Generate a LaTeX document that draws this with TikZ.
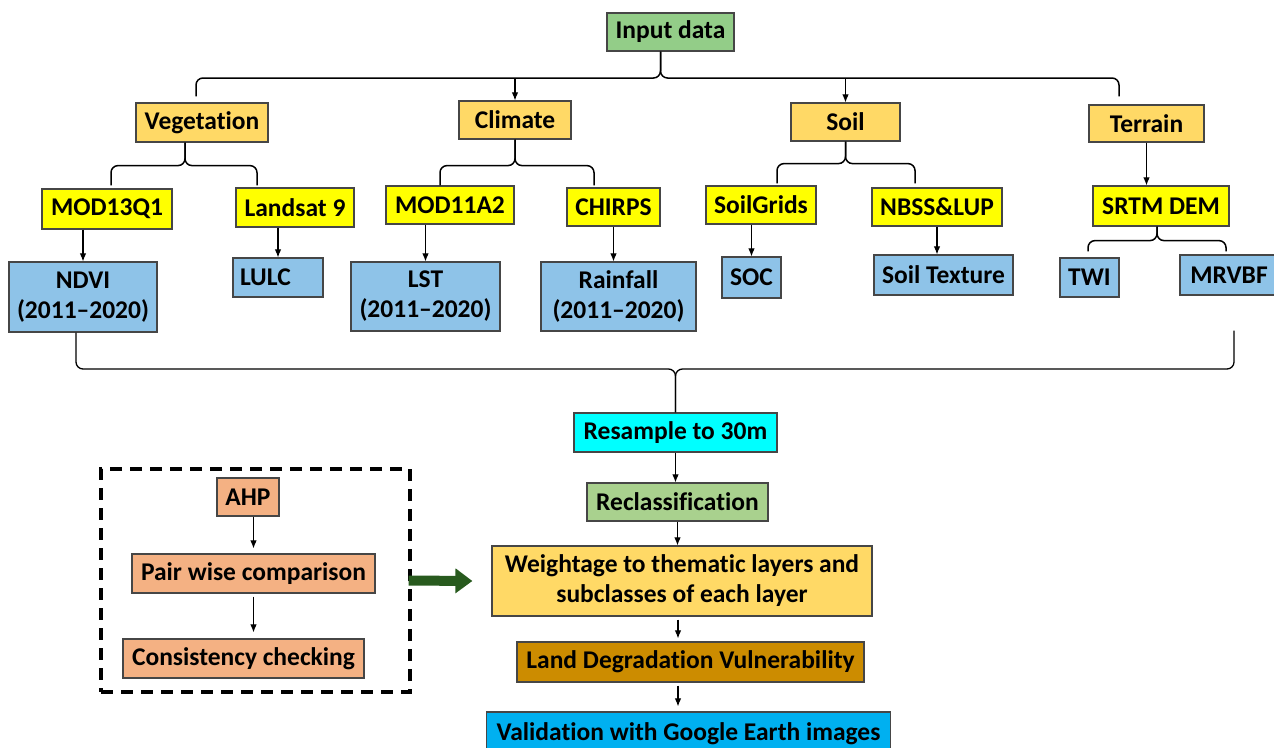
\documentclass[tikz,border=0pt]{standalone}
\usepackage{fontspec}
\setmainfont{Carlito}[Ligatures={TeX,NoCommon}]
\usepackage{tikz}
\usetikzlibrary{arrows,arrows.meta,calc,positioning}
\definecolor{inputgreen}{RGB}{147,205,136}
\definecolor{catfill}{RGB}{255,217,102}
\definecolor{srcfill}{RGB}{255,255,0}
\definecolor{layerfill}{RGB}{142,195,232}
\definecolor{resfill}{RGB}{0,255,255}
\definecolor{reclfill}{RGB}{169,209,142}
\definecolor{ldvfill}{RGB}{204,140,0}
\definecolor{validfill}{RGB}{0,176,240}
\definecolor{ahpfill}{RGB}{244,177,131}
\definecolor{boxline}{RGB}{70,70,70}
\definecolor{darkarrow}{RGB}{40,90,30}
\tikzstyle{box} = [rectangle, draw=boxline, line width=1.2pt, align=center, inner sep=2pt,
  font={\fontsize{25.5}{30}\selectfont\bfseries}]
\tikzstyle{arrow} = [draw, line width=1.1pt, -{Latex[length=8pt,width=6.5pt]}]
\tikzstyle{brace} = [draw, line width=1.5pt, rounded corners=7pt]
\tikzstyle{dashbox} = [rectangle, draw=black, line width=3.2pt, dash pattern=on 12pt off 8pt]
\tikzstyle{bigarrow} = [draw=darkarrow, line width=10pt, -{Triangle[length=17pt,width=24pt]}]

\begin{document}
\begin{tikzpicture}[x=1pt, y=-1pt]
    \useasboundingbox (0,0) rectangle (1274,747);
    % top level
    \node [box, fill=inputgreen, minimum width=127, minimum height=38] (input) at (670.5,32) {Input data};
    \node [box, fill=catfill, minimum width=132, minimum height=39] (veg) at (202,122.5) {Vegetation};
    \node [box, fill=catfill, minimum width=112, minimum height=38] (clim) at (515,120) {Climate};
    \node [box, fill=catfill, minimum width=109, minimum height=38] (soil) at (845.5,122) {Soil};
    \node [box, fill=catfill, minimum width=115, minimum height=37] (terr) at (1146.5,123.5) {Terrain};
    % sources
    \node [box, fill=srcfill, minimum width=130, minimum height=40] (mod13) at (107,209) {MOD13Q1};
    \node [box, fill=srcfill, minimum width=118, minimum height=39] (land) at (295,207.5) {Landsat 9};
    \node [box, fill=srcfill, minimum width=128, minimum height=38] (mod11) at (450,205) {MOD11A2};
    \node [box, fill=srcfill, minimum width=93, minimum height=38] (chirps) at (613.5,207) {CHIRPS};
    \node [box, fill=srcfill, minimum width=110, minimum height=38] (soilg) at (761,205) {SoilGrids};
    \node [box, fill=srcfill, minimum width=130, minimum height=38] (nbss) at (937,207) {NBSS\&LUP};
    \node [box, fill=srcfill, minimum width=136, minimum height=40] (srtm) at (1161,206) {SRTM DEM};
    % thematic layers
    \node [box, fill=layerfill, minimum width=148, minimum height=70] (ndvi) at (83,297) {NDVI\\(2011--2020)};
    \node [box, fill=layerfill, text width=76pt, align=left, inner xsep=7pt, minimum height=39] (lulc) at (278,277.5) {LULC};
    \node [box, fill=layerfill, minimum width=149, minimum height=69] (lst) at (425.5,296.5) {LST\\(2011--2020)};
    \node [box, fill=layerfill, minimum width=155, minimum height=69] (rain) at (618.5,296.5) {Rainfall\\(2011--2020)};
    \node [box, fill=layerfill, minimum width=59, minimum height=41] (soc) at (751.5,277.5) {SOC};
    \node [box, fill=layerfill, minimum width=139, minimum height=40] (tex) at (943.5,275) {Soil Texture};
    \node [box, fill=layerfill, minimum width=59, minimum height=39] (twi) at (1089.5,277.5) {TWI};
    \node [box, fill=layerfill, minimum width=98, minimum height=40] (mrvbf) at (1229,275) {MRVBF};
    % processing chain
    \node [box, fill=resfill, minimum width=203, minimum height=39] (res) at (675.5,432.5) {Resample to 30m};
    \node [box, fill=reclfill, minimum width=181, minimum height=38] (recl) at (677.5,502) {Reclassification};
    \node [box, fill=catfill, minimum width=380, minimum height=70] (weight) at (682,581)
      {Weightage to thematic layers and\\subclasses of each layer};
    \node [box, fill=ldvfill, minimum width=347, minimum height=40] (ldv) at (690.5,662) {Land Degradation Vulnerability};
    \node [box, fill=validfill, minimum width=404, minimum height=44] (valid) at (688.5,734) {Validation with Google Earth images};
    % AHP block
    \node [dashbox, minimum width=309, minimum height=223] (ahpframe) at (255.5,580.5) {};
    \node [box, fill=ahpfill, minimum width=62, minimum height=38] (ahp) at (248,497) {AHP};
    \node [box, fill=ahpfill, minimum width=243, minimum height=39] (pair) at (253.5,573.5) {Pair wise comparison};
    \node [box, fill=ahpfill, minimum width=241, minimum height=39] (cons) at (243.5,658.5) {Consistency checking};

    % braces
    \coordinate (topbar) at (0,78);
    \coordinate (topcusp) at ($(input.south)+(-10,0)$);
    \draw [brace] ($(veg.north)+(-6,-6)$) |- (topcusp |- topbar) -- (topcusp);
    \draw [brace] ($(terr.north)+(-27.5,-8)$) |- (topcusp |- topbar) -- (topcusp);
    \path [arrow] (clim.north |- topbar) -- (clim.north);
    \path [arrow] (soil.north |- topbar) -- (soil.north);

    \draw [brace] ($(mod13.north)+(4,-3)$) |- ($(veg.south)+(-17,23)$) -- ($(veg.south)+(-17,0)$);
    \draw [brace] ($(land.north)+(-38,-2)$) |- ($(veg.south)+(-17,23)$) -- ($(veg.south)+(-17,0)$);
    \draw [brace] ($(mod11.north)+(-10,0)$) |- ($(clim.south)+(0,26)$) -- (clim.south);
    \draw [brace] ($(chirps.north)+(-19.5,-2)$) |- ($(clim.south)+(0,26)$) -- (clim.south);
    \draw [brace] ($(soilg.north)+(16,-2)$) |- ($(soil.south)+(0,22)$) -- (soil.south);
    \draw [brace] ($(nbss.north)+(-22,-4)$) |- ($(soil.south)+(0,22)$) -- (soil.south);
    \path [arrow] (terr.south) -- (terr.south |- srtm.north);
    \draw [brace] ($(twi.north)+(-1.5,-6)$) |- ($(srtm.south)+(-4,14)$) -- ($(srtm.south)+(-4,0)$);
    \draw [brace] ($(mrvbf.north)+(-3,-3)$) |- ($(srtm.south)+(-4,14)$) -- ($(srtm.south)+(-4,0)$);

    \path [arrow] (mod13.south -| ndvi) -- (ndvi.north);
    \path [arrow] (land.south -| lulc) -- (lulc.north);
    \path [arrow] (mod11.south -| lst) -- (lst.north);
    \path [arrow] (chirps.south) -- (chirps.south |- rain.north);
    \path [arrow] (soilg.south -| soc) -- (soc.north);
    \path [arrow] (nbss.south) -- (nbss.south |- tex.north);

    \coordinate (lowbar) at (0,369);
    \draw [brace, line width=1.3pt] ($(ndvi.south)+(-7,0)$) |- (res.north |- lowbar) -- (res.north);
    \draw [brace, line width=1.3pt] ($(mrvbf.south)+(5,35)$) |- (res.north |- lowbar) -- (res.north);

    % chain
    \path [arrow] (res.south) -- (res.south |- recl.north);
    \path [arrow] (recl.south) -- (recl.south |- weight.north);
    \path [arrow] ($(weight.south)+(-4,3)$) -- ($(weight.south |- ldv.north)+(-4,-3)$);
    \path [arrow] ($(weight.south |- ldv.south)+(-4,3)$) -- ($(weight.south |- valid.north)+(-4,-5)$);
    \path [arrow] (ahp.south -| pair) -- ($(pair.north)+(0,-5)$);
    \path [arrow] ($(pair.south)+(0,3)$) -- ($(pair.south |- cons.north)+(0,-6)$);
    \draw [bigarrow] ($(ahpframe.east)+(-3,0)$) -- ($(weight.west)+(-19,0)$);
  \end{tikzpicture}
\end{document}
